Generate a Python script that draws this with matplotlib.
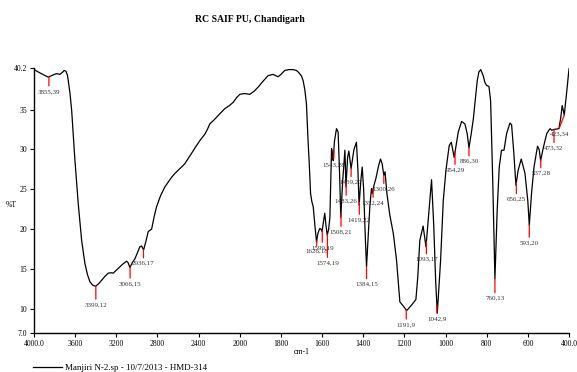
import numpy as np
import matplotlib
matplotlib.use("Agg")
import matplotlib.pyplot as plt
from matplotlib.ticker import FixedLocator, FixedFormatter

plt.rcParams['font.family'] = ['Liberation Serif', 'DejaVu Serif']

# spectrum: wavenumber (cm-1) and %T
wn = [4000, 3930, 3861, 3820, 3780, 3748, 3720, 3706, 3690, 3675, 3667, 3650,
      3634, 3602, 3570, 3537, 3505, 3480, 3456, 3430, 3401, 3370, 3343, 3310,
      3278, 3250, 3230, 3181, 3140, 3100, 3085, 3068, 3045, 3019, 2990, 2971,
      2954, 2935, 2910, 2890, 2870, 2857, 2830, 2809, 2770, 2728, 2690, 2663,
      2630, 2598, 2534, 2500, 2469, 2430, 2388, 2340, 2315, 2291, 2250, 2210,
      2146, 2100, 2064, 2030, 2000, 1976, 1951, 1930, 1911, 1885, 1862, 1838,
      1814, 1800, 1781, 1760, 1741, 1725, 1716, 1700, 1692, 1684, 1676, 1668,
      1663, 1656, 1650, 1643, 1635, 1627, 1620, 1611, 1605, 1600, 1593, 1587,
      1581, 1575, 1568, 1562, 1558, 1554, 1549, 1546, 1540, 1530, 1522, 1515,
      1509, 1500, 1489, 1484, 1476, 1470, 1459, 1445, 1433, 1426, 1420, 1412,
      1405, 1398, 1390, 1384, 1376, 1368, 1360, 1356, 1348, 1339, 1325, 1316,
      1308, 1300, 1294, 1285, 1271, 1254, 1238, 1222, 1206, 1189, 1165, 1144,
      1135, 1125, 1109, 1095, 1079, 1068, 1057, 1048, 1040, 1024, 1011, 998,
      982, 972, 958, 938, 922, 906, 895, 886, 875, 865, 846, 838, 829, 817,
      809, 800, 789, 781, 771, 760, 749, 739, 728, 716, 703, 687, 679, 668,
      658, 647, 632, 614, 600, 593, 582, 570, 553, 545, 538, 525, 508, 492,
      484, 473, 449, 440, 433, 423, 410, 400]
trans = [40.0, 39.5, 39.05, 39.3, 39.5, 39.4, 39.7, 39.9, 39.8, 39.3, 38.6, 37.0,
         34.9, 28.6, 23.2, 18.6, 15.7, 14.3, 13.4, 13.0, 12.85, 13.2, 13.6, 14.1,
         14.5, 14.55, 14.5, 15.1, 15.6, 16.0, 15.8, 15.2, 15.8, 16.3, 17.2, 17.8,
         17.9, 17.4, 18.6, 19.7, 19.9, 20.0, 21.7, 22.8, 24.2, 25.3, 26.0, 26.5,
         27.0, 27.4, 28.2, 28.9, 29.5, 30.3, 31.1, 31.9, 32.5, 33.2, 33.7, 34.25,
         35.1, 35.5, 35.9, 36.5, 36.9, 37.0, 36.9, 37.3, 37.8, 38.6, 39.25, 39.4,
         39.1, 39.4, 39.9, 40.0, 40.0, 39.9, 39.7, 39.2, 38.6, 37.5, 35.7, 31.0,
         28.6, 24.5, 23.5, 22.8, 20.5, 18.4, 19.5, 20.1, 20.0, 19.7, 21.0, 22.0,
         20.5, 19.25, 20.0, 21.5, 26.0, 30.1, 29.5, 28.6, 31.0, 32.6, 32.2, 27.0,
         21.5, 26.0, 29.9, 25.3, 29.0, 29.8, 27.6, 30.0, 30.9, 27.5, 23.0, 26.0,
         27.8, 25.0, 19.0, 15.3, 19.0, 22.8, 25.1, 24.5, 25.5, 26.3, 28.0, 28.8,
         28.2, 26.75, 27.2, 24.5, 21.8, 19.5, 16.1, 10.9, 10.4, 9.8, 10.5, 11.2,
         14.0, 18.6, 20.4, 17.8, 22.8, 26.2, 20.3, 13.5, 9.5, 16.1, 23.6, 27.4,
         30.5, 30.9, 29.0, 32.2, 33.5, 33.2, 32.0, 30.2, 32.0, 33.8, 38.6, 39.7, 40.0, 39.25,
         38.4, 38.0, 37.9, 36.1, 26.5, 13.8, 22.4, 27.8, 29.9, 29.9, 32.0, 33.3, 33.1, 29.5,
         25.5, 27.4, 28.8, 27.0, 23.5, 20.5, 24.5, 27.8, 30.4, 30.0, 28.6, 30.2, 32.0, 32.6,
         32.4, 32.5, 32.6, 34.0, 35.5, 34.3, 37.5, 40.1]

# peak picks (wavenumber, %T as printed)
peak_wn = [3855, 3399, 3066, 2936, 1626, 1599, 1574, 1543, 1508, 1483, 1459,
           1419, 1384, 1352, 1300, 1191, 1093, 1042, 954, 886, 760, 656, 593,
           537, 473, 423]
peak_t = [39, 12, 15, 17, 18, 19, 19, 28, 21, 26, 27, 22, 15, 24, 26, 9, 17, 9,
          29, 30, 13, 25, 20, 28, 32, 34]
# marker length and sideways shift in pixels (layout only)
drop = [9, 13, 11, 8, 5, 12, 23, 8, 13, 12, 8, 12, 12, 8, 8, 9, 12, 8, 12, 8,
        14, 11, 12, 8, 13, 13]
shift = [0] * len(peak_wn)
shift[peak_wn.index(423)] = -5

x_ticks = [4000, 3600, 3200, 2800, 2400, 2000, 1800, 1600, 1400, 1200, 1000, 800, 600, 400]
x_tick_labels = ['4000.0', '3600', '3200', '2800', '2400', '2000', '1800', '1600',
                 '1400', '1200', '1000', '800', '600', '400.0']
y_ticks = [7.0, 10, 15, 20, 25, 30, 35, 40.2]
y_tick_labels = ['7.0', '10', '15', '20', '25', '30', '35', '40.2']


def fwd(w):
    w = np.asarray(w, dtype=float)
    return np.where(w > 2000, 2000 + (w - 2000) * 0.5, w)


def inv(t):
    t = np.asarray(t, dtype=float)
    return np.where(t > 2000, 2000 + (t - 2000) * 2.0, t)


fig = plt.figure(figsize=(5.77, 3.72), dpi=100)
ax = fig.add_axes([34 / 577, 1 - 333 / 372, 535 / 577, 265 / 372])
ax.set_xscale('function', functions=(fwd, inv))

ax.plot(wn, trans, color='black', lw=0.9, label='Manjiri N-2.sp - 10/7/2013 - HMD-314')
ax.set_xlim(4000, 400)
ax.set_ylim(7.0, 40.2)

ax.xaxis.set_major_locator(FixedLocator(x_ticks))
ax.xaxis.set_major_formatter(FixedFormatter(x_tick_labels))
ax.xaxis.set_minor_locator(FixedLocator([]))
ax.set_yticks(y_ticks)
ax.set_yticklabels(y_tick_labels)
ax.tick_params(labelsize=5.5, length=3, width=0.8, pad=2)

for s in ['top', 'right']:
    ax.spines[s].set_visible(False)
for s in ['left', 'bottom']:
    ax.spines[s].set_linewidth(1.0)

# peak markers
for w, t, d, dx in zip(peak_wn, peak_t, drop, shift):
    yc = np.interp(w, wn[::-1], trans[::-1])
    ax.annotate('', xy=(w, yc), xytext=(dx, -d), textcoords='offset pixels',
                arrowprops=dict(arrowstyle='-', color='red', lw=0.9, shrinkA=0, shrinkB=0))
    ax.annotate(f'{w},{t}', xy=(w, yc), xytext=(dx, -d - 5.5), textcoords='offset pixels',
                ha='center', va='center', fontsize=5, color='#333333')

fig.text(250 / 577, 1 - 20 / 372, 'RC SAIF PU, Chandigarh', ha='center', va='center',
         fontsize=7, fontweight='bold')
fig.text(6 / 577, 1 - 205 / 372, '%T', ha='left', va='center', fontsize=5.5)
fig.text(302 / 577, 1 - 352 / 372, 'cm-1', ha='center', va='center', fontsize=5.5)

fig.legend(loc='center left', bbox_to_anchor=(33 / 577, 1 - 367.5 / 372), frameon=False,
           fontsize=6.5, handlelength=3.2, handletextpad=0.3, borderpad=0, borderaxespad=0)

fig.savefig('out.png', dpi=100)
